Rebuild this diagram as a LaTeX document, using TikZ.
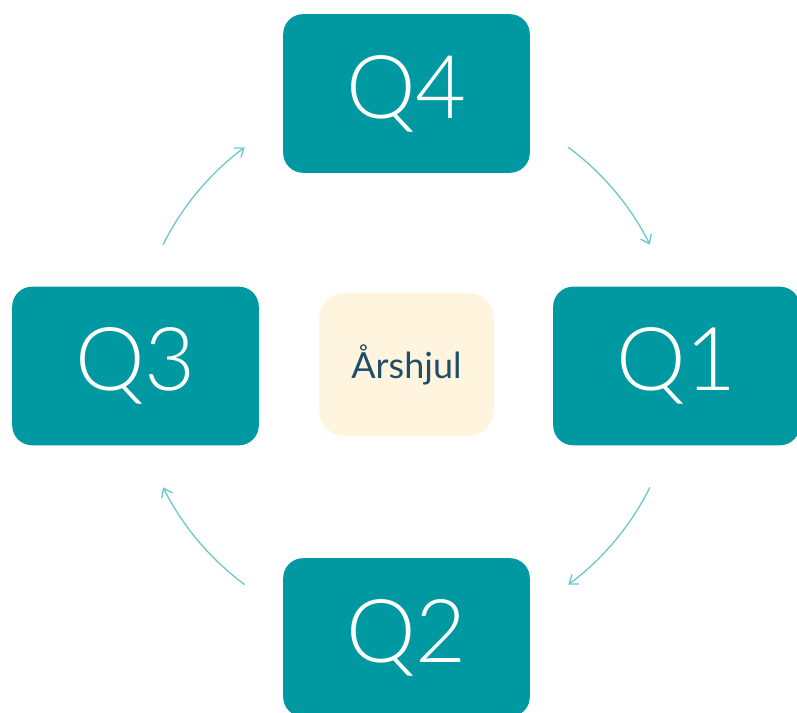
\documentclass[tikz,border=0pt]{standalone}
\usepackage{fontspec}
\setmainfont{Lato}
\newfontfamily\quarterfont{Lato Light}
\usetikzlibrary{arrows.meta}

\definecolor{quarterteal}{HTML}{0099A1}
\definecolor{arcteal}{HTML}{6CC9CF}
\definecolor{hubfill}{HTML}{FFF5DE}
\definecolor{hubtext}{HTML}{1F4E6B}

\tikzset{
  quarter/.style={fill=quarterteal,text=white,rounded corners=15pt,
    minimum width=185pt,minimum height=119pt,
    font=\quarterfont\fontsize{66}{72}\selectfont},
  hubbox/.style={fill=hubfill,text=hubtext,rounded corners=19pt,
    minimum width=131pt,minimum height=107pt,
    font=\fontsize{27}{31}\selectfont},
  cyclearrow/.style={draw=arcteal,line width=1pt,-{Straight Barb[length=6pt,width=9pt]}}
}

\begin{document}
\begin{tikzpicture}[x=0.75pt,y=0.75pt]
    \useasboundingbox (0,0) rectangle (797,713);

    \node[hubbox] (hub) at (406.5,348.5) {Årshjul};

    \node[quarter] (Q4) at (406.5,619.5) {Q4};
    \node[quarter] (Q1) at (676.5,347) {Q1};
    \node[quarter] (Q2) at (406.5,75.5) {Q2};
    \node[quarter] (Q3) at (135.5,347) {Q3};

    \coordinate (C) at (406.5,347);

    \draw[cyclearrow] ([shift={(53.5:272)}]C) arc[start angle=53.5,end angle=26.5,radius=272];
    \draw[cyclearrow] ([shift={(-26.5:272)}]C) arc[start angle=-26.5,end angle=-53.5,radius=272];
    \draw[cyclearrow] ([shift={(233.5:272)}]C) arc[start angle=233.5,end angle=206.5,radius=272];
    \draw[cyclearrow] ([shift={(153.5:272)}]C) arc[start angle=153.5,end angle=126.5,radius=272];
  \end{tikzpicture}
\end{document}
